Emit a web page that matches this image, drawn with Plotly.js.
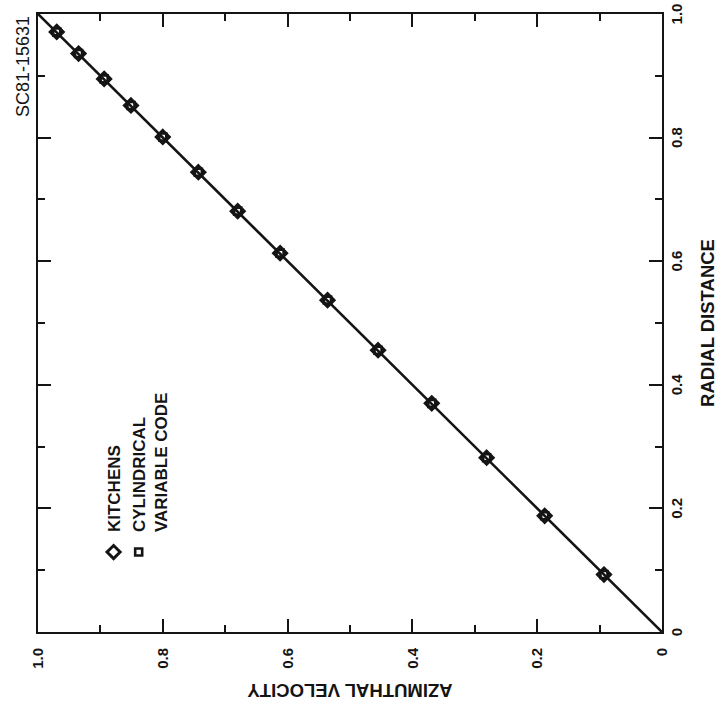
<!DOCTYPE html>
<html>
<head>
<meta charset="utf-8">
<script src="https://cdn.plot.ly/plotly-3.0.1.min.js"></script>
<style>
  html, body { margin: 0; padding: 0; background: #ffffff; overflow: hidden; width: 721px; height: 715px; }
  #chart { position: absolute; left: 3px; top: -3px; width: 715px; height: 721px; transform: rotate(-90deg); transform-origin: 50% 50%; }
</style>
</head>
<body>
<div id="chart"></div>
<script>
// Data (radial distance vs azimuthal velocity)
const radialDistance = [0.971, 0.936, 0.895, 0.852, 0.801, 0.744, 0.681, 0.613, 0.537, 0.456, 0.370, 0.282, 0.188, 0.093];
const kitchensVelocity = [0.970, 0.935, 0.894, 0.851, 0.800, 0.743, 0.680, 0.612, 0.536, 0.455, 0.369, 0.281, 0.188, 0.093];
const cylindricalVelocity = [0.970, 0.935, 0.894, 0.851, 0.800, 0.743, 0.680, 0.612, 0.536, 0.455, 0.369, 0.281, 0.188, 0.093];
const curveRadial = [0, 1];
const curveVelocity = [0, 1];
const tickValues = [0, 0.2, 0.4, 0.6, 0.8, 1.0];
const tickLabels = ['0', '0.2', '0.4', '0.6', '0.8', '1.0'];
const minorTickValues = [0.1, 0.3, 0.5, 0.7, 0.9];
const seriesNames = ['KITCHENS', 'CYLINDRICAL<br>VARIABLE CODE'];
const figureId = 'SC81-15631';

const ink = '#141414';
const fam = 'Liberation Sans, Arial, Helvetica, sans-serif';

const traces = [
  {
    x: curveRadial, y: curveVelocity, mode: 'lines', showlegend: false,
    line: { color: ink, width: 2.6 }, hoverinfo: 'skip'
  },
  {
    x: radialDistance, y: kitchensVelocity, mode: 'markers', name: seriesNames[0],
    marker: { symbol: 'diamond-open', size: 10, color: ink, line: { color: ink, width: 3 } }
  },
  {
    x: radialDistance, y: cylindricalVelocity, mode: 'markers', name: seriesNames[1],
    marker: { symbol: 'square-open', size: 7, color: ink, line: { color: ink, width: 2.6 } }
  }
];

function axis(extra) {
  return Object.assign({
    range: [0, 1], autorange: false, showgrid: false, zeroline: false,
    showline: true, linecolor: ink, linewidth: 2, mirror: 'ticks',
    ticks: 'inside', ticklen: 13, tickwidth: 2, tickcolor: ink,
    tickvals: tickValues, ticktext: tickLabels,
    tickfont: { family: fam, size: 15, weight: 700, color: ink },
    minor: { tickvals: minorTickValues, ticks: 'inside', ticklen: 7, tickwidth: 2, tickcolor: ink },
    automargin: false
  }, extra);
}

const layout = {
  width: 715, height: 721,
  margin: { l: 83, r: 14, t: 38, b: 59 },
  paper_bgcolor: '#ffffff', plot_bgcolor: '#ffffff',
  font: { family: fam, color: ink },
  showlegend: true,
  legend: {
    x: 0.097, y: 0.907, xanchor: 'left', yanchor: 'top',
    bgcolor: 'rgba(0,0,0,0)', borderwidth: 0, valign: 'top',
    font: { family: fam, size: 17, weight: 700, color: ink }
  },
  xaxis: axis({
    title: { text: 'RADIAL DISTANCE', font: { family: fam, size: 18.5, weight: 700, color: ink }, standoff: 17 }
  }),
  yaxis: axis({
    ticklabelstandoff: 11,
    title: { text: 'AZIMUTHAL VELOCITY', font: { family: fam, size: 18.5, weight: 700, color: ink }, standoff: 10 }
  }),
  annotations: [
    {
      text: figureId, xref: 'paper', yref: 'paper', x: 1.0, y: 1.024,
      xanchor: 'right', yanchor: 'middle', showarrow: false,
      font: { family: fam, size: 18, color: ink }
    }
  ]
};

Plotly.newPlot('chart', traces, layout, { staticPlot: true, displayModeBar: false });
</script>
</body>
</html>
